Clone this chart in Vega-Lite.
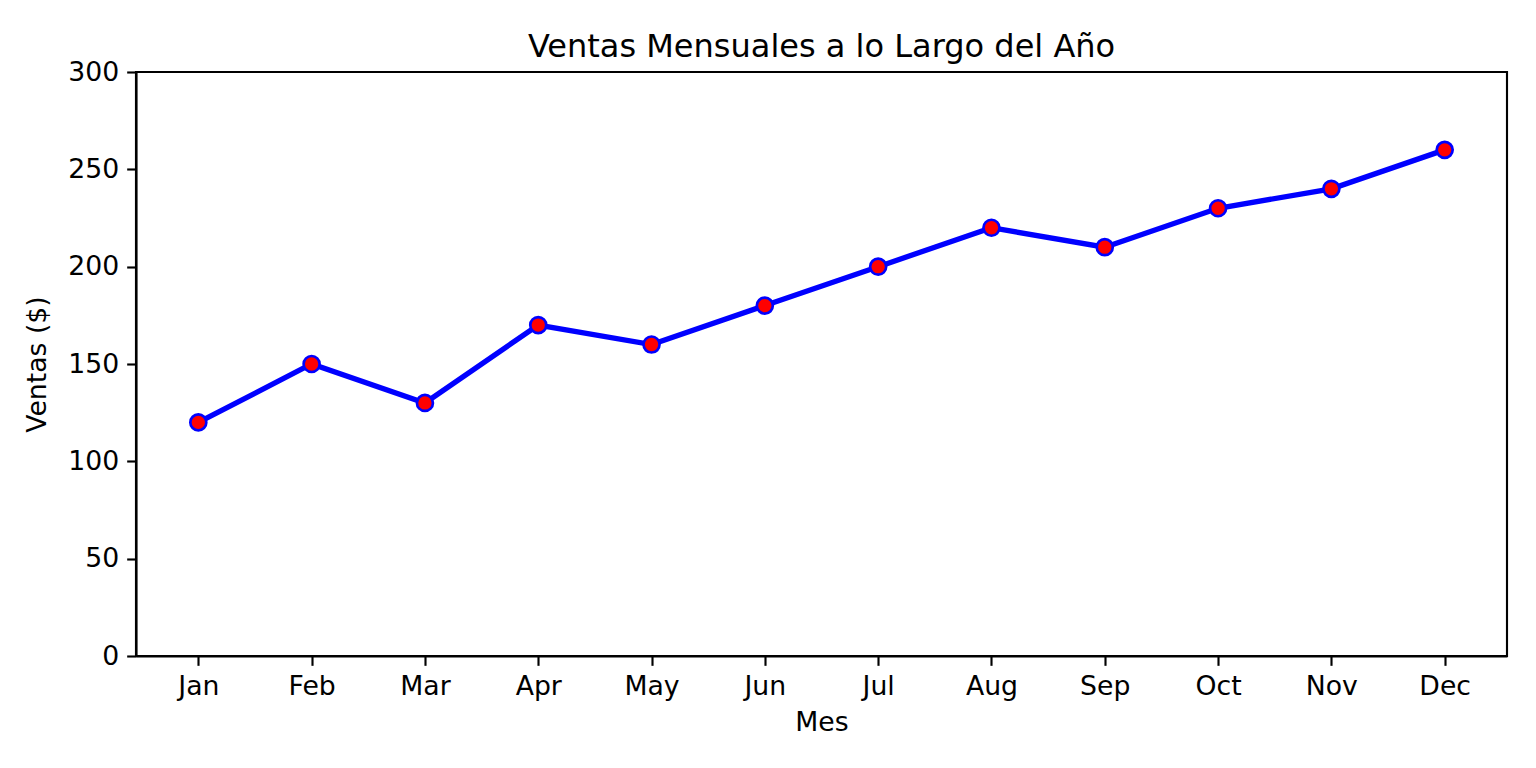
{
  "$schema": "https://vega.github.io/schema/vega-lite/v6.json",
  "width": 1371,
  "height": 584,
  "autosize": {"type": "none"},
  "padding": {"left": 136, "top": 72, "right": 29, "bottom": 112},
  "background": "white",
  "config": {
    "font": "DejaVu Sans",
    "view": {"stroke": "black", "strokeWidth": 2.13},
    "axis": {
      "domainColor": "black",
      "domainWidth": 2.13,
      "tickColor": "black",
      "tickWidth": 2.13,
      "tickSize": 9.33,
      "labelFont": "DejaVu Sans",
      "labelFontSize": 26.7,
      "labelColor": "black",
      "labelPadding": 8,
      "titleFont": "DejaVu Sans",
      "titleFontSize": 26.7,
      "titleFontWeight": "normal",
      "titleColor": "black",
      "grid": false
    },
    "title": {"font": "DejaVu Sans", "fontSize": 32, "fontWeight": "normal", "color": "black", "offset": -5}
  },
  "title": {"text": "Ventas Mensuales a lo Largo del Año", "anchor": "middle"},
  "data": {
    "values": [
      {"mes": "Jan", "ventas": 120},
      {"mes": "Feb", "ventas": 150},
      {"mes": "Mar", "ventas": 130},
      {"mes": "Apr", "ventas": 170},
      {"mes": "May", "ventas": 160},
      {"mes": "Jun", "ventas": 180},
      {"mes": "Jul", "ventas": 200},
      {"mes": "Aug", "ventas": 220},
      {"mes": "Sep", "ventas": 210},
      {"mes": "Oct", "ventas": 230},
      {"mes": "Nov", "ventas": 240},
      {"mes": "Dec", "ventas": 260}
    ]
  },
  "encoding": {
    "x": {
      "field": "mes",
      "type": "ordinal",
      "sort": null,
      "scale": {"type": "point", "padding": 0.55},
      "axis": {"title": "Mes", "labelAngle": 0, "titlePadding": 9}
    },
    "y": {
      "field": "ventas",
      "type": "quantitative",
      "scale": {"domain": [0, 300], "nice": false, "zero": true},
      "axis": {"title": "Ventas ($)", "values": [0, 50, 100, 150, 200, 250, 300], "titlePadding": 16}
    }
  },
  "layer": [
    {"mark": {"type": "line", "color": "#0000ff", "strokeWidth": 5.33}},
    {"mark": {"type": "point", "shape": "circle", "filled": true, "fill": "#ff0000", "stroke": "#0000ff", "strokeWidth": 2.67, "size": 256, "opacity": 1}}
  ]
}
